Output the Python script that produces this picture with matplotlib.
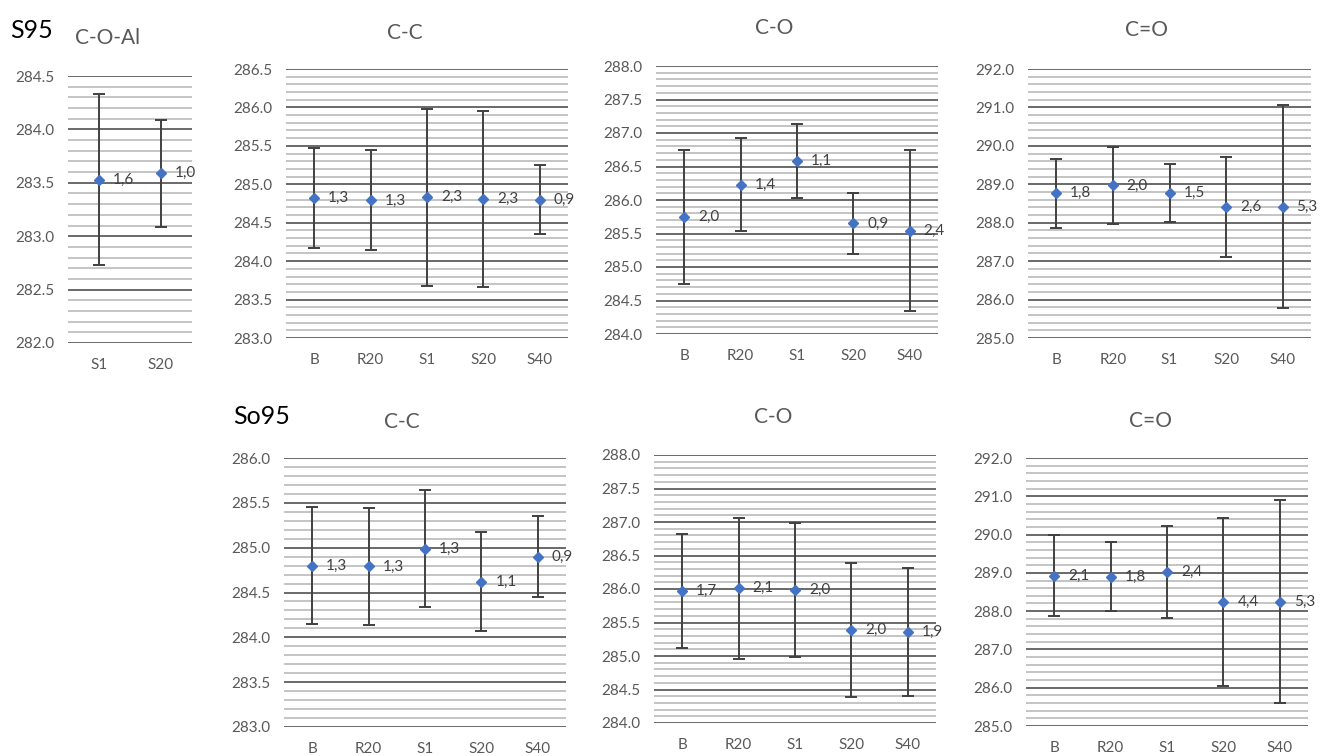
import matplotlib.pyplot as plt
from matplotlib.ticker import MultipleLocator

plt.rcParams['font.family'] = ['Lato', 'DejaVu Sans']

# data: centre values and total error range (label value)
cats5 = ["B", "R20", "S1", "S20", "S40"]
cats2 = ["S1", "S20"]

s95_coal = [283.53, 283.59]
s95_coal_err = [1.6, 1.0]
s95_cc = [284.82, 284.79, 284.83, 284.81, 284.80]
s95_cc_err = [1.3, 1.3, 2.3, 2.3, 0.9]
s95_co = [285.75, 286.23, 286.58, 285.65, 285.54]
s95_co_err = [2.0, 1.4, 1.1, 0.9, 2.4]
s95_c2o = [288.77, 288.97, 288.77, 288.40, 288.42]
s95_c2o_err = [1.8, 2.0, 1.5, 2.6, 5.3]

so95_cc = [284.80, 284.79, 284.99, 284.62, 284.90]
so95_cc_err = [1.3, 1.3, 1.3, 1.1, 0.9]
so95_co = [285.97, 286.01, 285.99, 285.39, 285.36]
so95_co_err = [1.7, 2.1, 2.0, 2.0, 1.9]
so95_c2o = [288.93, 288.90, 289.03, 288.24, 288.24]
so95_c2o_err = [2.1, 1.8, 2.4, 4.4, 5.3]

W, H = 1320, 756
fig = plt.figure(figsize=(W / 100, H / 100), dpi=100)

GRAY = '#595959'


def panel(px, cats, vals, errs, ylim, major, minor, title, tx, ty):
    l, r, t, b = px
    ax = fig.add_axes([l / W, 1 - b / H, (r - l) / W, (b - t) / H])
    x = range(len(cats))
    ax.errorbar(x, vals, yerr=[e / 2 for e in errs], fmt='D', color='#4472C4',
                markersize=5.5, ecolor='#404040', elinewidth=1.4,
                capsize=4, capthick=1.4, zorder=3)
    for xi, v, e in zip(x, vals, errs):
        ax.annotate(f"{e:.1f}".replace('.', ','), (xi, v), xytext=(10, 0),
                    textcoords='offset points', ha='left', va='center',
                    fontsize=11, color='#404040', annotation_clip=False,
                    zorder=4)
    ax.set_xlim(-0.5, len(cats) - 0.5)
    ax.set_ylim(*ylim)
    ax.set_xticks(list(x))
    ax.set_xticklabels(cats)
    ax.yaxis.set_major_locator(MultipleLocator(major))
    ax.yaxis.set_minor_locator(MultipleLocator(minor))
    ax.yaxis.set_major_formatter(lambda v, p: f"{v:.1f}")
    ax.grid(which='minor', axis='y', color='#BFBFBF', lw=1.3)
    ax.grid(which='major', axis='y', color='#5E5E5E', lw=1.3)
    ax.set_axisbelow(True)
    for s in ax.spines.values():
        s.set_visible(False)
    ax.tick_params(axis='both', which='both', length=0, colors=GRAY,
                   labelsize=11)
    ax.tick_params(axis='y', pad=10)
    ax.tick_params(axis='x', pad=11)
    fig.text(tx / W, 1 - ty / H, title, ha='center', va='center',
             fontsize=15, color=GRAY)
    return ax


panel((68, 192, 76, 343), cats2, s95_coal, s95_coal_err, (282.0, 284.5), 0.5, 0.1, "C-O-Al", 108, 38)
panel((286, 568, 69, 338), cats5, s95_cc, s95_cc_err, (283.0, 286.5), 0.5, 0.1, "C-C", 405, 33)
panel((656, 938, 66, 334), cats5, s95_co, s95_co_err, (284.0, 288.0), 0.5, 0.1, "C-O", 774, 28)
panel((1028, 1311, 69, 338), cats5, s95_c2o, s95_c2o_err, (285.0, 292.0), 1.0, 0.2, "C=O", 1147, 30)

panel((284, 566, 458, 727), cats5, so95_cc, so95_cc_err, (283.0, 286.0), 0.5, 0.1, "C-C", 402, 422)
panel((654, 936, 455, 723), cats5, so95_co, so95_co_err, (284.0, 288.0), 0.5, 0.1, "C-O", 773, 417)
panel((1026, 1308, 458, 726), cats5, so95_c2o, so95_c2o_err, (285.0, 292.0), 1.0, 0.2, "C=O", 1150, 421)

fig.text(10 / W, 1 - 30 / H, "S95", ha='left', va='center', fontsize=18, color='black')
fig.text(233 / W, 1 - 416 / H, "So95", ha='left', va='center', fontsize=18, color='black')

fig.savefig("out.png", dpi=100)
